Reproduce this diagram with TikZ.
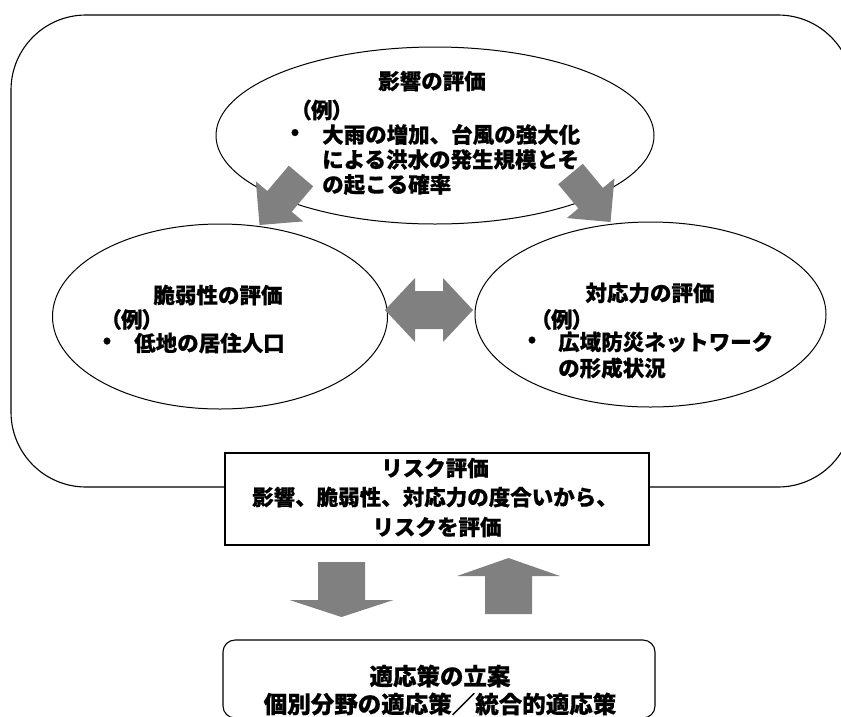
\documentclass[tikz,border=0pt]{standalone}
\usepackage{fontspec}
\setmainfont{Noto Sans CJK JP}[BoldFeatures={FakeBold=0.6}]
\newfontfamily\jpalt{Noto Sans CJK JP}[RawFeature=+palt, BoldFeatures={FakeBold=0.6}]
\usetikzlibrary{calc,shapes.geometric}
\definecolor{arrowgray}{HTML}{808080}
\tikzset{
  outerbox/.style={draw, line width=1.1pt, rounded corners=75pt, inner sep=0pt},
  ell/.style={ellipse, draw, line width=1pt, inner sep=0pt},
  riskbox/.style={draw, fill=white, line width=1.1pt, inner sep=0pt},
  planbox/.style={draw, fill=white, line width=1.1pt, rounded corners=12pt, inner sep=0pt},
  txt/.style={font=\fontsize{21.5}{25}\selectfont\bfseries, inner sep=0pt},
  bullettxt/.style={txt, text height=9pt, text depth=-5pt},
  bigtxt/.style={font=\fontsize{23.5}{27}\selectfont\bfseries, inner sep=0pt},
  arrowfill/.style={fill=arrowgray, draw=none},
}
% #1 tail, #2 tip, #3 shaft half width, #4 head half width, #5 head length (numbers in pt)
\newcommand\blockarrow[5]{%
  \path ($(#2)!#5pt!(#1)$) coordinate (ba-h);
  \fill[arrowfill] (#2) -- ($(ba-h)!#4pt!90:(#2)$) -- ($(ba-h)!#3pt!90:(#2)$)
    -- ($(#1)!#3pt!90:(#2)$) -- ($(#1)!#3pt!-90:(#2)$) -- ($(ba-h)!#3pt!-90:(#2)$)
    -- ($(ba-h)!#4pt!-90:(#2)$) -- cycle;
}
% #1 left tip, #2 right tip, #3 shaft half, #4 head half, #5 head length
\newcommand\doubleblockarrow[5]{%
  \path ($(#1)!#5pt!(#2)$) coordinate (da-l) ($(#2)!#5pt!(#1)$) coordinate (da-r);
  \fill[arrowfill] (#1) -- ($(da-l)!#4pt!90:(#2)$) -- ($(da-l)!#3pt!90:(#2)$)
    -- ($(da-r)!#3pt!-90:(#1)$) -- ($(da-r)!#4pt!-90:(#1)$) -- (#2)
    -- ($(da-r)!#4pt!90:(#1)$) -- ($(da-r)!#3pt!90:(#1)$)
    -- ($(da-l)!#3pt!-90:(#2)$) -- ($(da-l)!#4pt!-90:(#2)$) -- cycle;
}
\begin{document}
\begin{tikzpicture}[x=1pt, y=-1pt]
\useasboundingbox (0,0) rectangle (841,716);
\clip (0,0) rectangle (841,716);

% outer frame
\node[outerbox, minimum width=842pt, minimum height=472pt] (frame) at (432,251) {};

% ellipses
\node[ell, minimum width=438pt, minimum height=177pt] (impact) at (435,135.5) {};
\node[ell, minimum width=335pt, minimum height=185pt] (vuln) at (220,316.5) {};
\node[ell, minimum width=351pt, minimum height=185pt] (adapt) at (650.5,314.5) {};

% risk box and planning box
\node[riskbox, minimum width=424pt, minimum height=92pt] (risk) at (437,499) {};
\node[planbox, minimum width=432pt, minimum height=78pt] (plan) at (439,679) {};

% impact texts
\node[txt] (impT) at (432,81) {影響の評価};
\node[txt, anchor=west] (impE) at (300,110) {\jpalt\bfseries （例）};
\node[bullettxt] (impB) at (295,134.5) {•};
\node[txt, anchor=west] (impL1) at (322,134.5) {大雨の増加、台風の強大化};
\node[txt, anchor=west] (impL2) at (322,159.5) {による洪水の発生規模とそ};
\node[txt, anchor=west] (impL3) at (322,184.5) {の起こる確率};

% vulnerability texts
\node[txt] (vulT) at (218,295) {脆弱性の評価};
\node[txt, anchor=west] (vulE) at (110,319.5) {\jpalt\bfseries （例）};
\node[bullettxt] (vulB) at (107,343) {•};
\node[txt, anchor=west] (vulL1) at (134,343) {低地の居住人口};

% adaptive capacity texts
\node[txt] (adaT) at (650,293) {対応力の評価};
\node[txt, anchor=west] (adaE) at (540,319.5) {\jpalt\bfseries （例）};
\node[bullettxt] (adaB) at (532,342) {•};
\node[txt, anchor=west] (adaL1) at (558,342) {広域防災ネットワーク};
\node[txt, anchor=west] (adaL2) at (558,368) {の形成状況};

% risk texts
\node[txt] (riskT) at (435,468) {リスク評価};
\node[txt] (riskL1) at (435,497) {影響、脆弱性、対応力の度合いから、};
\node[txt] (riskL2) at (437,527) {リスクを評価};

% plan texts
\node[bigtxt] (planT) at (440,676) {適応策の立案};
\node[bigtxt] (planL) at (440,704) {個別分野の適応策／統合的適応策};

% block arrows
\coordinate (a1t) at (301,176);   \coordinate (a1h) at (259.5,225);
\coordinate (a2t) at (570.5,174); \coordinate (a2h) at (610.5,222);
\coordinate (dl) at (385,310);    \coordinate (dr) at (473,310);
\coordinate (a3t) at (341.5,562); \coordinate (a3h) at (341.5,617);
\coordinate (a4t) at (508.5,614); \coordinate (a4h) at (508.5,558);
\blockarrow{a1t}{a1h}{16}{31}{31}
\blockarrow{a2t}{a2h}{16}{31}{31}
\doubleblockarrow{dl}{dr}{19}{32}{30}
\blockarrow{a3t}{a3h}{23.5}{52}{17}
\blockarrow{a4t}{a4h}{23.5}{51.5}{18}
\end{tikzpicture}
\end{document}
